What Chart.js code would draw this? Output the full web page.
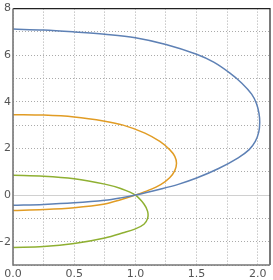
<!DOCTYPE html>
<html>
<head>
<meta charset="utf-8">
<script src="https://cdn.jsdelivr.net/npm/chart.js@4/dist/chart.umd.min.js"></script>
<style>
  html, body { margin: 0; padding: 0; background: #fff; }
  #wrap { width: 273px; height: 280px; }
</style>
</head>
<body>
<div id="wrap"><canvas id="myChart" width="273" height="280"></canvas></div>
<script>
// curves, in order along each curve
let blueX   = [0, 0.25, 0.5, 0.75, 1.0, 1.25, 1.5, 1.64, 1.77, 1.87, 1.95, 1.99, 2.01, 2.016, 2.008, 1.98, 1.93, 1.84, 1.68, 1.5, 1.35, 1.2, 1.0, 0.88, 0.75, 0.5, 0.25, 0];
let blueY   = [7.12, 7.08, 7.0, 6.9, 6.75, 6.46, 6.04, 5.7, 5.24, 4.8, 4.33, 3.92, 3.5, 3.1, 2.7, 2.3, 1.95, 1.6, 1.14, 0.73, 0.46, 0.25, 0.0, -0.12, -0.22, -0.33, -0.40, -0.44];

let orangeX = [0, 0.25, 0.5, 0.75, 0.9, 1.078, 1.2, 1.28, 1.322, 1.336, 1.322, 1.28, 1.21, 1.11, 1.0, 0.88, 0.75, 0.5, 0.25, 0];
let orangeY = [3.45, 3.43, 3.35, 3.17, 3.0, 2.66, 2.3, 1.95, 1.66, 1.36, 1.05, 0.74, 0.46, 0.21, 0.0, -0.2, -0.38, -0.54, -0.62, -0.66];

let greenX  = [0, 0.25, 0.5, 0.75, 0.88, 1.0, 1.07, 1.1, 1.1, 1.07, 1.0, 0.9, 0.75, 0.5, 0.25, 0];
let greenY  = [0.85, 0.81, 0.70, 0.47, 0.28, 0.0, -0.38, -0.7, -1.0, -1.25, -1.45, -1.62, -1.84, -2.08, -2.21, -2.25];

let xTicksShown = [0, 0.5, 1, 1.5, 2];
let yTicksShown = [-2, 0, 2, 4, 6, 8];

function toPoints(xs, ys) {
    var pts = [];
    for (let i = 0; i < xs.length; i++) {
        pts.push({ x: xs[i], y: ys[i] });
    }
    return pts;
}

function serie(xs, ys, color) {
    return {
        data: toPoints(xs, ys),
        showLine: true,
        borderColor: color,
        backgroundColor: color,
        borderWidth: 1.5,
        pointRadius: 0,
        tension: 0.35,
        fill: false
    };
}

// frame + zero line
const framePlugin = {
    id: 'frame',
    beforeDatasetsDraw(chart) {
        const a = chart.chartArea;
        const y0 = chart.scales.y.getPixelForValue(0);
        const ctx = chart.ctx;
        ctx.save();
        ctx.strokeStyle = '#d0d0d0';
        ctx.lineWidth = 1;
        ctx.beginPath();
        ctx.moveTo(a.left, Math.round(y0) + 0.5);
        ctx.lineTo(a.right, Math.round(y0) + 0.5);
        ctx.stroke();
        ctx.restore();
    },
    afterDraw(chart) {
        const a = chart.chartArea;
        const ctx = chart.ctx;
        ctx.save();
        ctx.lineWidth = 1.2;
        ctx.strokeStyle = '#222';
        ctx.beginPath();
        ctx.moveTo(a.left, a.top);
        ctx.lineTo(a.right, a.top);
        ctx.lineTo(a.right, a.bottom);
        ctx.stroke();
        ctx.strokeStyle = '#777';
        ctx.lineWidth = 1.6;
        ctx.beginPath();
        ctx.moveTo(a.left, a.top);
        ctx.lineTo(a.left, a.bottom);
        ctx.lineTo(a.right, a.bottom);
        ctx.stroke();
        ctx.restore();
    }
};

const config = {
    type: 'scatter',
    data: {
        datasets: [
            serie(blueX, blueY, '#5E81B5'),
            serie(orangeX, orangeY, '#E19C24'),
            serie(greenX, greenY, '#8FB032')
        ]
    },
    options: {
        responsive: false,
        animation: false,
        layout: { padding: { top: 6, right: 3, left: 0, bottom: 0 } },
        plugins: { legend: { display: false }, tooltip: { enabled: false } },
        scales: {
            x: {
                type: 'linear',
                min: 0,
                max: 2.1,
                afterFit: function (s) { s.height = 15; },
                border: { display: false, dash: [1, 2] },
                grid: { color: '#aaa', drawTicks: false, lineWidth: 1 },
                ticks: {
                    stepSize: 0.25,
                    includeBounds: false,
                    autoSkip: false,
                    maxRotation: 0,
                    padding: 3,
                    color: '#555',
                    font: { family: 'DejaVu Sans', size: 11 },
                    callback: function (v) {
                        return xTicksShown.includes(v) ? v.toFixed(1) : '';
                    }
                }
            },
            y: {
                type: 'linear',
                min: -3,
                max: 8,
                afterFit: function (s) { s.width = 13; },
                border: { display: false, dash: [1, 2] },
                grid: {
                    drawTicks: false,
                    lineWidth: 1,
                    color: function (c) { return c.tick && c.tick.value === 0 ? 'rgba(0,0,0,0)' : '#aaa'; }
                },
                ticks: {
                    stepSize: 1,
                    autoSkip: false,
                    padding: 2,
                    color: '#555',
                    font: { family: 'DejaVu Sans', size: 11 },
                    callback: function (v) {
                        return yTicksShown.includes(v) ? String(v).replace('-', '\u2212') : '';
                    }
                }
            }
        }
    },
    plugins: [framePlugin]
};

var myChart = new Chart(document.getElementById('myChart'), config);
</script>
</body>
</html>
